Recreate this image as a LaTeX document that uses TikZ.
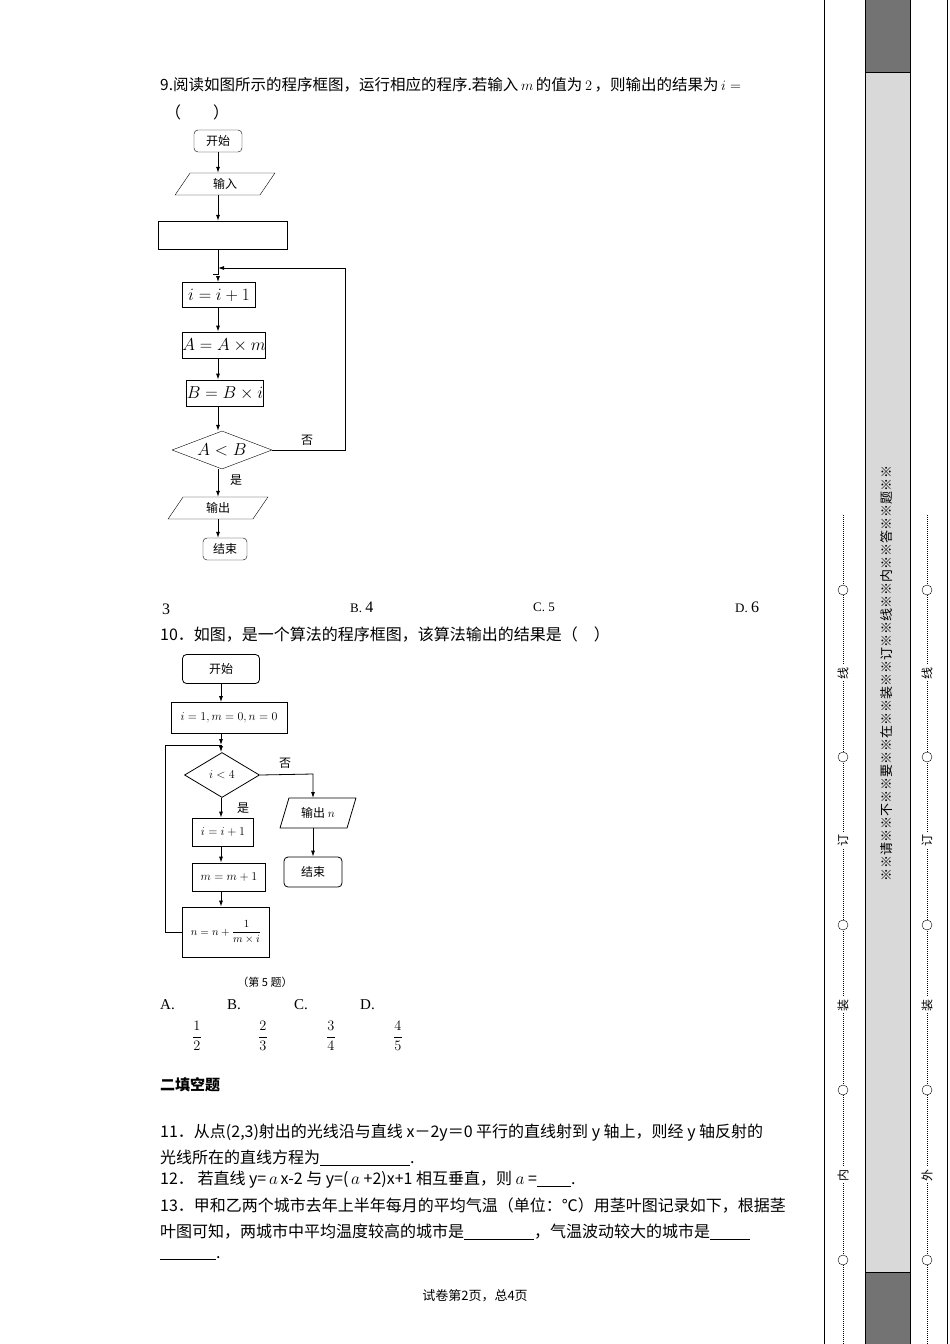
\documentclass[tikz,border=0pt]{standalone}
\usepackage{fontspec}
\setmainfont{Liberation Serif}
\newfontfamily\cjk{Noto Sans CJK SC}
\usetikzlibrary{shapes.geometric,arrows.meta}
\begin{document}
\begin{tikzpicture}[x=1pt,y=-1pt,
  txt/.style={anchor=west,inner sep=0pt,font=\fontsize{16}{18}\selectfont\cjk},
  sm/.style={inner sep=0pt,font=\fontsize{12}{14}\selectfont\cjk},
  box/.style={draw,thick,inner sep=0pt},
  rbox/.style={draw,rounded corners=4pt,inner sep=0pt},
  para/.style={draw,trapezium,trapezium left angle=65,trapezium right angle=115,inner sep=0pt,trapezium stretches=true},
  arr/.style={-{Latex[length=6pt,width=4pt]},thick},
  dia/.style={draw,diamond,aspect=2.6,inner sep=0pt}]
\useasboundingbox (0,0) rectangle (950,1344);
% binding strip
\fill[black!15] (865,0) rectangle (910,1344);
\fill[black!55] (865,0) rectangle (910,72);
\fill[black!55] (865,1272) rectangle (910,1344);
\draw[thick] (824,0)--(824,1344) (865,0)--(865,1344) (910,0)--(910,1344) (947,0)--(947,1344);
\draw (865,72)--(910,72) (865,1272)--(910,1272);
\node[rotate=90,sm,font=\fontsize{13}{14}\selectfont\cjk] (warn) at (887,673) {※※请※※不※※要※※在※※装※※订※※线※※内※※答※※题※※};
\foreach \xx/\lab in {843/内,927/外}{
  \draw[densely dotted,line width=1pt] (\xx,515)--(\xx,1344);
  \foreach \yy in {590,757,925,1090,1260} \draw[fill=white] (\xx,\yy) circle (5);
  \foreach \yy/\t in {673/线,840/订,1005/装,1175/\lab} \node[rotate=90,sm,fill=white,inner sep=2pt] at (\xx,\yy) {\t};
}
% Q9
\node[txt,font=\fontsize{15.5}{18}\selectfont\cjk] (q9) at (160,85) {9.阅读如图所示的程序框图，运行相应的程序.若输入\,$m$\,的值为\,$2$\,，则输出的结果为\,$i=$};
\node[txt] (q9b) at (165,112) {（\quad\quad ）};
\node[rbox,minimum width=48,minimum height=22,sm] (s1) at (218,141) {开始};
\node[para,minimum width=100,minimum height=22,sm] (in1) at (225,184) {输入};
\node[draw,minimum width=129,minimum height=28] (e1) at (223,235) {};
\coordinate (j1) at (218,268);
\node[box,minimum width=73,minimum height=25,font=\fontsize{19}{20}\selectfont] (b1) at (219,295) {$i=i+1$};
\node[box,minimum width=81,minimum height=26,font=\fontsize{18}{20}\selectfont] (b2) at (224,345) {$A=A\times m$};
\node[box,minimum width=73,minimum height=26,font=\fontsize{18}{20}\selectfont] (b3) at (225,393) {$B=B\times i$};
\node[dia,minimum width=100,minimum height=38,font=\fontsize{17}{18}\selectfont] (d1) at (222,450) {$A<B$};
\node[para,minimum width=100,minimum height=22,sm] (o1) at (218,508) {输出};
\node[rbox,minimum width=44,minimum height=22,sm] (t1) at (225,549) {结束};
\draw[arr] (s1)--(in1.north -| s1);
\draw[arr] (in1.south -| 218,0)--(e1.north -| 218,0);
\draw[thick] (e1.south -| 218,0)--(218,275);
\draw[thick] (213,274)--(218,274);
\draw[arr] (218,276)--(b1.north -| 218,0);
\draw[arr] (b1.south -| 218,0)--(b2.north -| 218,0);
\draw[arr] (b2.south -| 218,0)--(b3.north -| 218,0);
\draw[arr] (b3.south -| 218,0)--(d1.north -| 218,0);
\draw[arr] (d1.east)--(345,450)--(345,268)--(j1);
\node[sm] (no1) at (307,440) {否};
\draw[arr] (d1.south -| 218,0)--(o1.north -| 218,0);
\node[sm] (yes1) at (236,480) {是};
\draw[arr] (o1.south -| 218,0)--(t1.north -| 218,0);
% options
\node[txt,font=\fontsize{16}{16}\selectfont] (oa) at (162,609) {3};
\node[txt,font=\fontsize{13}{14}\selectfont] (ob) at (350,607) {B. \fontsize{16}{16}\selectfont 4};
\node[txt,font=\fontsize{13}{14}\selectfont] (oc) at (533,607) {C. 5};
\node[txt,font=\fontsize{13}{14}\selectfont] (od) at (735,607) {D. \fontsize{16}{16}\selectfont 6};
% Q10
\node[txt] (q10) at (160,634) {10．如图，是一个算法的程序框图，该算法输出的结果是（\quad ）};
\node[rbox,thick,minimum width=77,minimum height=29,sm] (s2) at (221,669) {开始};
\node[box,minimum width=116,minimum height=31,font=\fontsize{12}{12}\selectfont] (i2) at (229,718) {$i=1,m=0,n=0$};
\coordinate (j2) at (221,745);
\node[dia,thick,minimum width=75,minimum height=45,font=\fontsize{12}{12}\selectfont] (d2) at (222,775) {$i<4$};
\node[box,minimum width=61,minimum height=28,font=\fontsize{12}{12}\selectfont] (a2) at (223,832) {$i=i+1$};
\node[box,minimum width=73,minimum height=28,font=\fontsize{12}{12}\selectfont] (m2) at (229,877) {$m=m+1$};
\node[box,minimum width=87,minimum height=50,font=\fontsize{11}{12}\selectfont] (n2) at (226,932) {$n=n+\displaystyle\frac{1}{m\times i}$};
\node[para,thick,minimum width=76,minimum height=30,sm] (o2) at (318,813) {输出 $n$};
\node[rbox,thick,minimum width=58,minimum height=30,sm] (t2) at (313,872) {结束};
\draw[arr] (s2)--(s2|-i2.north);
\draw[arr] (s2|-i2.south)--(j2);
\draw[arr] (j2)--(d2.north -| 221,0);
\draw[arr] (d2.south -| 221,0)--(a2.north -| 221,0);
\draw[arr] (a2.south -| 221,0)--(m2.north -| 221,0);
\draw[arr] (m2.south -| 221,0)--(n2.north -| 221,0);
\draw[thick] (n2.west)--(165,932)--(165,745)--(j2);
\draw[arr] (d2.east)--(313,774)--(313,798);
\draw[arr] (313,828)--(t2.north);
\node[sm] (no2) at (285,763) {否};
\node[sm] (yes2) at (243,808) {是};
\node[sm,font=\fontsize{11}{12}\selectfont\cjk] (cap) at (265,982) {（第 5 题）};
% choices
\foreach \xx/\l/\fx/\n/\d in {160/A./197/1/2,227/B./263/2/3,294/C./331/3/4,360/D./398/4/5}{
  \node[txt,font=\fontsize{15}{16}\selectfont] at (\xx,1005) {\l};
  \node[font=\fontsize{15}{18}\selectfont,inner sep=0pt] at (\fx,1036) {$\displaystyle\frac{\n}{\d}$};
}
\node[txt,font=\fontsize{15}{16}\selectfont\cjk\bfseries] (sec) at (160,1085) {二填空题};
\node[txt] (q11) at (160,1133) {11．从点(2,3)射出的光线沿与直线 x－2y＝0 平行的直线射到 y 轴上，则经 y 轴反射的};
\node[txt] (q11b) at (160,1158) {光线所在的直线方程为\underline{\hspace{90pt}}.};
\node[txt] (q12) at (160,1180) {12． 若直线 y=\,$a$\,x-2 与 y=(\,$a$ +2)x+1 相互垂直，则 $a$ =\underline{\hspace{34pt}}.};
\node[txt] (q13) at (160,1205) {13．甲和乙两个城市去年上半年每月的平均气温（单位：℃）用茎叶图记录如下，根据茎};
\node[txt] (q13b) at (160,1232) {叶图可知，两城市中平均温度较高的城市是\underline{\hspace{70pt}}，气温波动较大的城市是\underline{\hspace{40pt}}};
\node[txt] (q13c) at (160,1258) {\underline{\hspace{56pt}}.};
\node[sm,font=\fontsize{13}{14}\selectfont\cjk] (foot) at (475,1296) {试卷第2页，总4页};
\end{tikzpicture}
\end{document}
